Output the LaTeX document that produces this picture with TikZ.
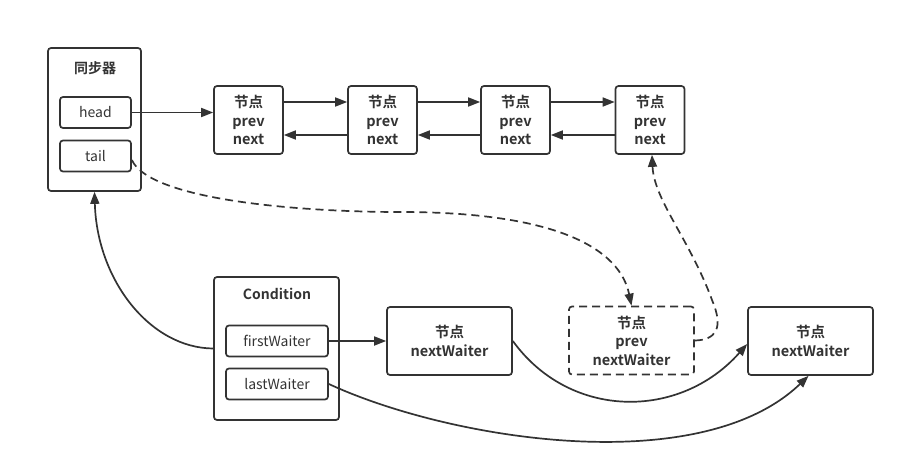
\documentclass[tikz,border=0pt]{standalone}
\usepackage{fontspec}
\setmainfont{Noto Sans CJK SC}[BoldFont={Noto Sans CJK SC Bold}]
\usetikzlibrary{arrows.meta}
\definecolor{ink}{HTML}{333333}
\begin{document}
\begin{tikzpicture}[x=1pt,y=-1pt,
  line width=1.7pt, draw=ink,
  box/.style={draw=ink, rounded corners=3pt, line width=1.7pt, inner sep=0pt, text=ink},
  lnode/.style={box, minimum width=69pt, minimum height=68pt, align=center, font=\fontsize{14.5}{18.5}\selectfont\bfseries},
  wnode/.style={box, minimum width=125pt, minimum height=68pt, align=center, font=\fontsize{14.5}{18.5}\selectfont\bfseries},
  field/.style={box, minimum height=31pt, font=\fontsize{14}{16}\selectfont},
  ttl/.style={text=ink, font=\fontsize{14}{16}\selectfont\bfseries},
  conn/.style={draw=ink, line width=1.7pt, -{Triangle[length=12pt,width=9pt]}},
  dconn/.style={conn, dash pattern=on 8pt off 5pt}]
\useasboundingbox (0,0) rectangle (904,455);
% synchronizer
\node[box, minimum width=93pt, minimum height=143pt] (sync) at (94.5,119.5) {};
\node[ttl] (synct) at (95,68) {同步器};
\node[field, minimum width=71pt] (head) at (95.5,112.5) {head};
\node[field, minimum width=71pt] (tail) at (95.5,156) {tail};
% queue nodes
\node[lnode] (n1) at (248.5,120) {节点\\prev\\next};
\node[lnode] (n2) at (382.5,120) {节点\\prev\\next};
\node[lnode] (n3) at (515.5,120) {节点\\prev\\next};
\node[lnode] (n4) at (650,120) {节点\\prev\\next};
% condition
\node[box, minimum width=125pt, minimum height=143pt] (cond) at (276.5,348.5) {};
\node[ttl] (condt) at (277,294) {Condition};
\node[field, minimum width=102pt] (fw) at (277,341) {firstWaiter};
\node[field, minimum width=102pt] (lw) at (277,384) {lastWaiter};
% waiter nodes
\node[wnode] (w1) at (449.5,341) {节点\\nextWaiter};
\node[wnode, dash pattern=on 8pt off 5pt] (wd) at (631.5,340.5) {节点\\prev\\nextWaiter};
\node[wnode] (w2) at (810.5,341) {节点\\nextWaiter};
% connectors
\draw[conn] (head.east) -- (head.east -| n1.west);
\foreach \a/\b in {n1/n2,n2/n3,n3/n4}{
  \draw[conn] ([yshift=18pt]\a.east) -- ([yshift=18pt]\b.west);
  \draw[conn] ([yshift=-15pt]\b.west) -- ([yshift=-15pt]\a.east);
}
\draw[dconn] ([yshift=-4pt]tail.east) .. controls (150,200) and (300,212) .. (400,212)
   .. controls (560,212) and (620,250) .. (wd.north);
\draw[dconn] (wd.east) .. controls (716,340) and (724,328) .. (712,300)
   .. controls (690,240) and (654,200) .. ([xshift=2pt]n4.south);
\draw[conn] (cond.west) .. controls (150,348) and (97,280) .. (sync.south);
\draw[conn] (fw.east) -- (w1.west);
\draw[conn] (w1.east) .. controls (570,420) and (680,420) .. ([yshift=-3pt]w2.west);
\draw[conn] (lw.east) .. controls (450,440) and (700,480) .. ([xshift=-2pt]w2.south);
\end{tikzpicture}
\end{document}
